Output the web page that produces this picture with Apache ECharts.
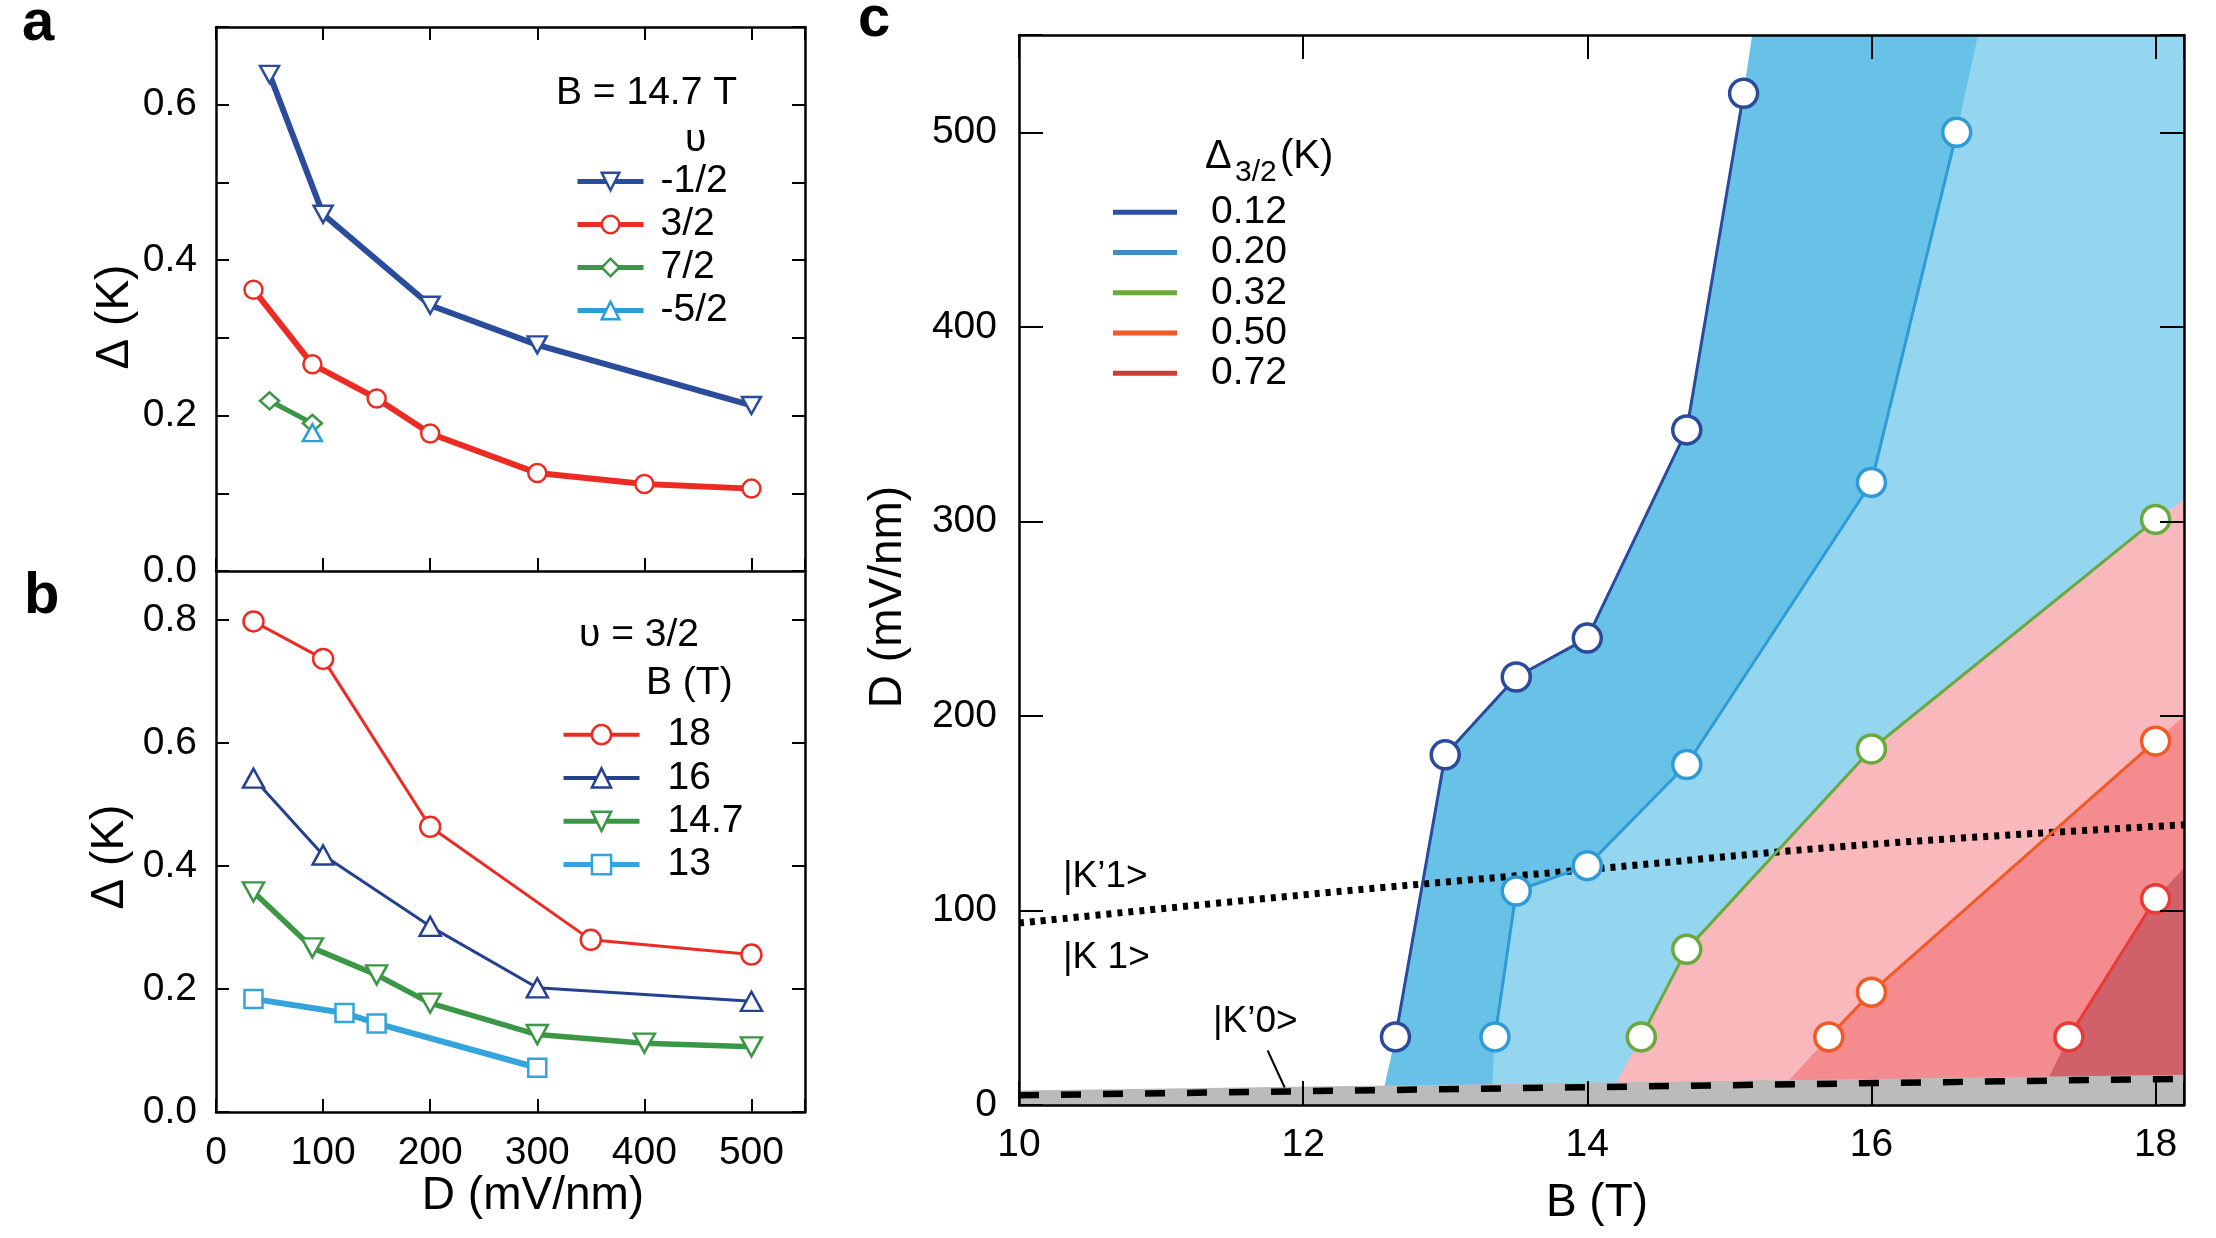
<!DOCTYPE html>
<html>
<head>
<meta charset="utf-8">
<script src="https://cdn.jsdelivr.net/npm/echarts@6/dist/echarts.min.js"></script>
<style>
html,body{margin:0;padding:0;background:#fff}
#main{width:2216px;height:1238px}
</style>
</head>
<body>
<div id="main"></div>
<script>
// ---- panel a : B = 14.7 T, gap vs D for several filling factors
const aNames = ['-1/2', '3/2', '7/2', '-5/2'];
const aD = [[50, 100, 200, 300, 500], [35, 90, 150, 200, 300, 400, 500], [50, 90], [90]];
const aGap = [[0.639, 0.459, 0.342, 0.291, 0.213], [0.362, 0.266, 0.222, 0.177, 0.126, 0.112, 0.106], [0.219, 0.190], [0.178]];
const aYTicks = ['0.0', '0.2', '0.4', '0.6'];

// ---- panel b : nu = 3/2, gap vs D for several fields
const bNames = ['18', '16', '14.7', '13'];
const bD = [[35, 100, 200, 350, 500], [35, 100, 200, 300, 500], [35, 90, 150, 200, 300, 400, 500], [35, 120, 150, 300]];
const bGap = [[0.798, 0.737, 0.464, 0.280, 0.256], [0.543, 0.418, 0.302, 0.202, 0.180], [0.358, 0.267, 0.223, 0.177, 0.126, 0.112, 0.106], [0.184, 0.161, 0.144, 0.072]];
const bYTicks = ['0.0', '0.2', '0.4', '0.6', '0.8'];
const bXTicks = [0, 100, 200, 300, 400, 500];

// ---- panel c : contour lines of the 3/2 gap in the (B, D) plane
const cLevels = ['0.12', '0.20', '0.32', '0.50', '0.72'];
const cB = [[12.65, 13.0, 13.5, 14.0, 14.7, 15.1], [13.35, 13.5, 14.0, 14.7, 16.0, 16.6], [14.38, 14.7, 16.0, 18.0], [15.7, 16.0, 18.0], [17.39, 18.0]];
const cDv = [[35, 180, 220, 240, 347, 520], [35, 110, 123, 175, 320, 500], [35, 80, 183, 301], [35, 58, 187], [35, 106]];
// where each shaded region's edge leaves the gray band and where it meets the frame
const edgeLowB = [12.57, 13.33, 14.2, 15.41, 17.24];
const edgeLowD = [9, 10, 11, 12, 13];
const edgeHighB = [15.16, 16.75, 18.2, 18.2, 18.2];
const edgeHighD = [550, 550, 311, 200, 122];
// gray band, |K'0> dashed line and |K'1>/|K 1> dotted line
const grayB = [10, 18.2];
const grayTop = [7.5, 15.5];
const dashB = [10, 18.2];
const dashD = [5, 13.5];
const dotB = [10, 12, 14, 16, 18.2];
const dotD = [93.5, 108, 121, 134, 144];
const leaderB = [11.75, 11.87];
const leaderD = [28, 9];
const cBTicks = [10, 12, 14, 16, 18];
const cDTicks = [0, 100, 200, 300, 400, 500];
const B_MAX = 18.2, D_MAX = 550;

const FONT = 'Liberation Sans, Arial, sans-serif';
const aColors = ['#2b4c9b', '#ec2c24', '#3b9645', '#2a9fd8'];
const aWidths = [6, 6, 5, 5];
const aSymbols = ['triangle', 'circle', 'diamond', 'triangle'];
const aRot = [180, 0, 0, 0];
const bColors = ['#ec2c24', '#25408f', '#3b9645', '#35a4dc'];
const bWidths = [3, 3, 5.5, 6];
const bLegendWidths = [4, 4, 5, 5];
const bSymbols = ['circle', 'triangle', 'triangle', 'rect'];
const bRot = [0, 0, 180, 0];
const cLineColors = ['#2a4b9b', '#2f9bd6', '#6aa93d', '#f05a26', '#e93a36'];
const cLegendColors = ['#2c4fa0', '#3f8ec7', '#6aa93d', '#f05a26', '#cf3b36'];
const cFills = ['#68c2e7', '#94d5f0', '#f9b8bb', '#f48c8f', '#d0616a'];

const chart = echarts.init(document.getElementById('main'));

function frameAxis(extra) {
    return Object.assign({
        type: 'value', z: 10,
        axisLine: {show: true, onZero: false, lineStyle: {color: '#000', width: 2.5}},
        axisTick: {show: true, inside: true, length: 13, lineStyle: {color: '#000', width: 2}},
        axisLabel: {show: false},
        splitLine: {show: false}
    }, extra);
}
const tickLabel = {color: '#000', fontSize: 39, fontFamily: FONT};
const longTick = {show: true, inside: true, length: 24, lineStyle: {color: '#000', width: 2}};

const aSeries = aNames.map((name, i) => ({
    name, type: 'line', xAxisIndex: 0, yAxisIndex: 0,
    data: aD[i].map((d, k) => [d, aGap[i][k]]),
    symbol: aSymbols[i], symbolRotate: aRot[i], symbolSize: aSymbols[i] === 'circle' ? 18 : [19, 17],
    lineStyle: {color: aColors[i], width: aWidths[i]},
    itemStyle: {color: '#fff', borderColor: aColors[i], borderWidth: 2.5},
    z: 5
}));

const bSeries = bNames.map((name, i) => ({
    name, type: 'line', xAxisIndex: 2, yAxisIndex: 2,
    data: bD[i].map((d, k) => [d, bGap[i][k]]),
    symbol: bSymbols[i], symbolRotate: bRot[i], symbolSize: bSymbols[i] === 'circle' ? 20 : (bSymbols[i] === 'rect' ? 18 : [21, 19]),
    lineStyle: {color: bColors[i], width: bWidths[i]},
    itemStyle: {color: '#fff', borderColor: bColors[i], borderWidth: 2.5},
    z: 5
}));

function regionItem(params, api) {
    const i = params.dataIndex;
    const pts = [[edgeLowB[i], 0], [edgeLowB[i], edgeLowD[i]]];
    cB[i].forEach((b, k) => pts.push([b, cDv[i][k]]));
    pts.push([edgeHighB[i], edgeHighD[i]]);
    if (edgeHighB[i] < B_MAX) pts.push([B_MAX, D_MAX]);
    pts.push([B_MAX, 0]);
    return {type: 'polygon', shape: {points: pts.map(p => api.coord(p))}, style: {fill: cFills[i]}};
}
function grayItem(params, api) {
    const pts = [[grayB[0], 0], [grayB[1], 0], [grayB[1], grayTop[1]], [grayB[0], grayTop[0]]];
    return {type: 'polygon', shape: {points: pts.map(p => api.coord(p))}, style: {fill: '#bbbbbb'}};
}

const cSeries = [
    {type: 'custom', xAxisIndex: 3, yAxisIndex: 4, renderItem: regionItem, data: cLevels.map((l, i) => [i]), z: 1, silent: true},
    {type: 'custom', xAxisIndex: 3, yAxisIndex: 4, renderItem: grayItem, data: [[0]], z: 2, silent: true},
    {type: 'line', xAxisIndex: 3, yAxisIndex: 4, data: dashB.map((b, k) => [b, dashD[k]]), symbol: 'none',
        lineStyle: {color: '#000', width: 6.5, type: [20, 22], cap: 'butt'}, z: 3},
    {type: 'line', xAxisIndex: 3, yAxisIndex: 4, data: dotB.map((b, k) => [b, dotD[k]]), symbol: 'none', smooth: 0.4,
        lineStyle: {color: '#000', width: 7, type: [5, 6], cap: 'butt'}, z: 3},
    {type: 'line', xAxisIndex: 3, yAxisIndex: 4, data: leaderB.map((b, k) => [b, leaderD[k]]), symbol: 'none',
        lineStyle: {color: '#000', width: 2}, z: 3}
].concat(cLevels.map((name, i) => ({
    name, type: 'line', xAxisIndex: 3, yAxisIndex: 4,
    data: cB[i].map((b, k) => [b, cDv[i][k]]),
    symbol: 'circle', symbolSize: 28,
    lineStyle: {color: cLineColors[i], width: 3},
    itemStyle: {color: '#fff', borderColor: cLineColors[i], borderWidth: 3.5},
    z: 6
})));

function txt(text, x, y, size, opts) {
    opts = opts || {};
    const el = {type: 'text', x, y, z: 20,
        style: {text, fill: '#000', font: (opts.bold ? 'bold ' : '') + size + 'px ' + FONT,
            align: opts.align || 'left', verticalAlign: 'middle'}};
    if (opts.rotation) el.rotation = opts.rotation;
    return el;
}

const option = {
    backgroundColor: '#fff',
    animation: false,
    textStyle: {fontFamily: FONT},
    grid: [
        {left: 216, top: 27, width: 589, height: 544},
        {left: 216, top: 571, width: 589, height: 541},
        {left: 1019, top: 35, width: 1165, height: 1070}
    ],
    xAxis: [
        frameAxis({gridIndex: 0, position: 'bottom', min: 0, max: 550, interval: 100}),
        frameAxis({gridIndex: 0, position: 'top', min: 0, max: 550, interval: 100}),
        frameAxis({gridIndex: 1, position: 'bottom', min: 0, max: 550, interval: 100,
            axisLabel: Object.assign({show: true, margin: 22,
                formatter: v => bXTicks.includes(v) ? String(v) : ''}, tickLabel)}),
        frameAxis({gridIndex: 2, position: 'bottom', min: 10, max: B_MAX, interval: 2, axisTick: longTick,
            axisLabel: Object.assign({show: true, margin: 21,
                formatter: v => cBTicks.includes(v) ? String(v) : ''}, tickLabel)}),
        frameAxis({gridIndex: 2, position: 'top', min: 10, max: B_MAX, interval: 2, axisTick: longTick})
    ],
    yAxis: [
        frameAxis({gridIndex: 0, position: 'left', min: 0, max: 0.7, interval: 0.1,
            axisLabel: Object.assign({show: true, margin: 19,
                formatter: v => aYTicks.includes(v.toFixed(1)) && Math.abs(v * 10 - Math.round(v * 10)) < 1e-6 ? v.toFixed(1) : ''}, tickLabel)}),
        frameAxis({gridIndex: 0, position: 'right', min: 0, max: 0.7, interval: 0.1}),
        frameAxis({gridIndex: 1, position: 'left', min: 0, max: 0.88, interval: 0.2,
            axisLabel: Object.assign({show: true, margin: 19,
                formatter: v => Math.abs(v * 5 - Math.round(v * 5)) < 1e-6 && bYTicks.includes(v.toFixed(1)) ? v.toFixed(1) : ''}, tickLabel)}),
        frameAxis({gridIndex: 1, position: 'right', min: 0, max: 0.88, interval: 0.2}),
        frameAxis({gridIndex: 2, position: 'left', min: 0, max: D_MAX, interval: 100, axisTick: longTick,
            axisLabel: Object.assign({show: true, margin: 22,
                formatter: v => cDTicks.includes(v) ? String(v) : ''}, tickLabel)}),
        frameAxis({gridIndex: 2, position: 'right', min: 0, max: D_MAX, interval: 100, axisTick: longTick})
    ],
    legend: [
        {data: aNames.map((name, i) => ({name, lineStyle: {width: 5, color: aColors[i]}, itemStyle: {borderWidth: 2.5}})),
            orient: 'vertical', left: 575, top: 160, itemWidth: 66, itemHeight: 22, itemGap: 0,
            selectedMode: false, padding: 0,
            textStyle: {fontSize: 39, lineHeight: 43, color: '#000', fontFamily: FONT, padding: [0, 0, 0, 12]}},
        {data: bNames.map((name, i) => ({name, lineStyle: {width: bLegendWidths[i], color: bColors[i]}, itemStyle: {borderWidth: 2.5}})),
            orient: 'vertical', left: 561, top: 713, itemWidth: 76, itemHeight: 24, itemGap: 0,
            selectedMode: false, padding: 0,
            textStyle: {fontSize: 39, lineHeight: 43.3, color: '#000', fontFamily: FONT, padding: [0, 0, 0, 23]}},
        {data: cLevels.map((name, i) => ({name, itemStyle: {color: cLegendColors[i], borderColor: cLegendColors[i], borderWidth: 0}})),
            orient: 'vertical', left: 1113, top: 192, icon: 'rect', itemWidth: 64, itemHeight: 5, itemGap: 0,
            selectedMode: false, padding: 0,
            textStyle: {fontSize: 39, lineHeight: 40.3, color: '#000', fontFamily: FONT, padding: [0, 0, 0, 29]}}
    ],
    graphic: [
        txt('a', 22, 24, 58, {bold: true}),
        txt('b', 24, 597, 58, {bold: true}),
        txt('c', 858, 20, 58, {bold: true}),
        txt('Δ (K)', 115, 317, 46, {rotation: Math.PI / 2, align: 'center'}),
        txt('Δ (K)', 110, 857, 46, {rotation: Math.PI / 2, align: 'center'}),
        txt('D (mV/nm)', 533, 1196, 46, {align: 'center'}),
        txt('B (T)', 1597, 1203, 46, {align: 'center'}),
        txt('D (mV/nm)', 888, 597, 46, {rotation: Math.PI / 2, align: 'center'}),
        txt('B = 14.7 T', 556, 93, 39),
        txt('υ', 685, 140, 39),
        txt('υ = 3/2', 579, 635, 39),
        txt('B (T)', 646, 683, 39),
        txt('Δ', 1205, 157, 40),
        txt('3/2', 1235, 173, 30),
        txt('(K)', 1280, 157, 40),
        txt('|K’1>', 1063, 877, 37),
        txt('|K 1>', 1063, 958, 37),
        txt('|K’0>', 1213, 1022, 37)
    ],
    series: aSeries.concat(bSeries, cSeries)
};
chart.setOption(option);
</script>
</body>
</html>
